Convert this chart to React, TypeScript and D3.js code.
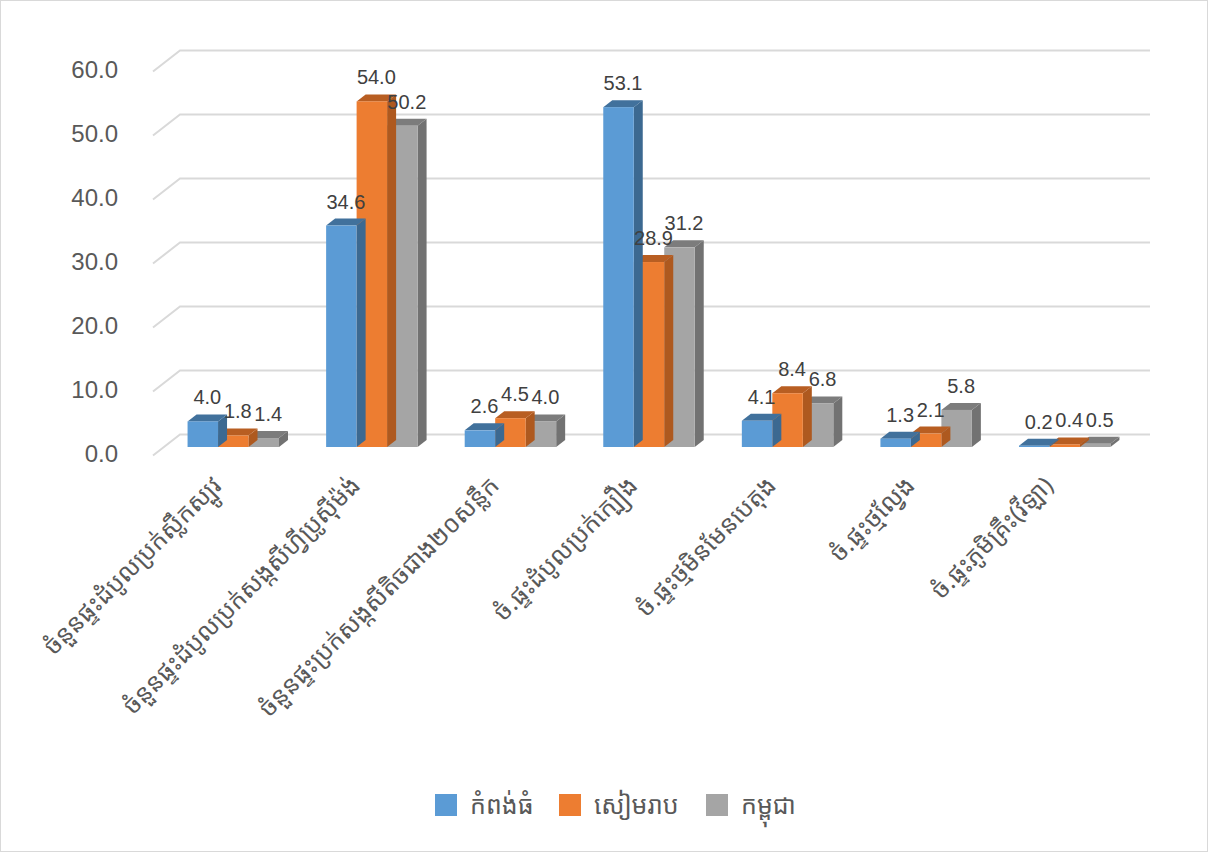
import React from "react";
import * as d3 from "d3";

const categories = [
  "ចំនួនផ្ទះដំបូលប្រក់ស្លឹកស្បូវ",
  "ចំនួនផ្ទះដំបូលប្រក់សង្កសីហ្វីប្រូស៊ីម៉ង់",
  "ចំនួនផ្ទះប្រក់សង្កសីតិចជាង២០សន្លឹក",
  "ចំ.ផ្ទះដំបូលប្រក់ក្បឿង",
  "ចំ.ផ្ទះថ្មមិនមែនបេតុង",
  "ចំ.ផ្ទះថ្មល្វែង",
  "ចំ.ផ្ទះភូមិគ្រឹះ(វីឡា)",
];
const seriesNames = ["កំពង់ធំ", "សៀមរាប", "កម្ពុជា"];
const kampongThom = [4.0, 34.6, 2.6, 53.1, 4.1, 1.3, 0.2];
const siemReap = [1.8, 54.0, 4.5, 28.9, 8.4, 2.1, 0.4];
const cambodia = [1.4, 50.2, 4.0, 31.2, 6.8, 5.8, 0.5];
const yTicks = [0, 10, 20, 30, 40, 50, 60];

const seriesValues = [kampongThom, siemReap, cambodia];
const colors = [
  { front: "#5B9BD5", top: "#41719C", side: "#3C6991" },
  { front: "#ED7D31", top: "#B85E22", side: "#AE591F" },
  { front: "#A5A5A5", top: "#7C7C7C", side: "#727272" },
];

const W = 1208;
const H = 852;
const frontX0 = 153;
const frontX1 = 1123;
const wallDX = 27;
const wallDY = -21;
const barDX = 11;
const barDY = -8.5;
const depthDX = 9;
const depthDY = -7;

const khmerFont = "'Noto Sans Khmer','Khmer OS','Noto Sans',sans-serif";
const numFont = "'Liberation Sans',Arial,sans-serif";

export default function App() {
  const yFront = d3.scaleLinear().domain([0, 60]).range([455.5, 71.5]);
  const x0 = d3
    .scaleBand<number>()
    .domain(categories.map((_, i) => i))
    .range([frontX0 + barDX, frontX1 + barDX])
    .paddingInner(0.34)
    .paddingOuter(0.17);
  const x1 = d3
    .scaleBand<number>()
    .domain([0, 1, 2])
    .range([0, x0.bandwidth()])
    .padding(0);
  const catBand = d3
    .scaleBand<number>()
    .domain(categories.map((_, i) => i))
    .range([frontX0, frontX1]);

  const bars: React.ReactNode[] = [];
  const labels: React.ReactNode[] = [];
  categories.forEach((_, ci) => {
    [2, 1, 0].forEach((si) => {
      const v = seriesValues[si][ci];
      const bx = (x0(ci) as number) + (x1(si) as number);
      const bw = x1.bandwidth();
      const yb = yFront(0) + barDY;
      const yt = yFront(v) + barDY;
      const c = colors[si];
      bars.push(
        <g key={`b-${ci}-${si}`}>
          <polygon
            points={`${bx + bw},${yb} ${bx + bw + depthDX},${yb + depthDY} ${bx + bw + depthDX},${yt + depthDY} ${bx + bw},${yt}`}
            fill={c.side}
          />
          <polygon
            points={`${bx},${yt} ${bx + depthDX},${yt + depthDY} ${bx + bw + depthDX},${yt + depthDY} ${bx + bw},${yt}`}
            fill={c.top}
          />
          <rect x={bx} y={yt} width={bw} height={yb - yt} fill={c.front} />
        </g>
      );
      labels.push(
        <text
          key={`l-${ci}-${si}`}
          x={bx + bw / 2 + depthDX / 2}
          y={yt - 17}
          textAnchor="middle"
          fontFamily={numFont}
          fontSize={20}
          fill="#404040"
        >
          {v.toFixed(1)}
        </text>
      );
    });
  });

  const legendItems = [
    { sx: 435, tx: 470 },
    { sx: 559, tx: 594 },
    { sx: 706, tx: 741 },
  ];

  return (
    <svg
      width={W}
      height={H}
      style={{ position: "absolute", left: 0, top: 0, background: "#fff" }}
    >
      <rect x={0.5} y={0.5} width={W - 1} height={H - 1} fill="#fff" stroke="#D9D9D9" />
      {yTicks.map((t) => {
        const yf = yFront(t);
        return (
          <g key={`g-${t}`}>
            <polyline
              points={`${frontX0},${yf} ${frontX0 + wallDX},${yf + wallDY} ${frontX1 + wallDX},${yf + wallDY}`}
              fill="none"
              stroke="#D9D9D9"
              strokeWidth={2}
            />
            <text
              x={118}
              y={yf - 2}
              dy="0.36em"
              textAnchor="end"
              fontFamily={numFont}
              fontSize={24}
              fill="#595959"
            >
              {t.toFixed(1)}
            </text>
          </g>
        );
      })}
      {bars}
      {labels}
      {categories.map((c, ci) => {
        const cx = (catBand(ci) as number) + catBand.bandwidth() / 2 + 1;
        const cy = 487;
        return (
          <text
            key={`c-${ci}`}
            transform={`translate(${cx},${cy}) rotate(-45)`}
            textAnchor="end"
            fontFamily={khmerFont}
            fontSize={24.5}
            fill="#595959"
          >
            {c}
          </text>
        );
      })}
      {seriesNames.map((n, i) => (
        <g key={`lg-${i}`}>
          <rect x={legendItems[i].sx} y={794} width={22} height={22} fill={colors[i].front} />
          <text
            x={legendItems[i].tx}
            y={805}
            dy="0.35em"
            fontFamily={khmerFont}
            fontSize={25}
            fill="#595959"
          >
            {n}
          </text>
        </g>
      ))}
    </svg>
  );
}
